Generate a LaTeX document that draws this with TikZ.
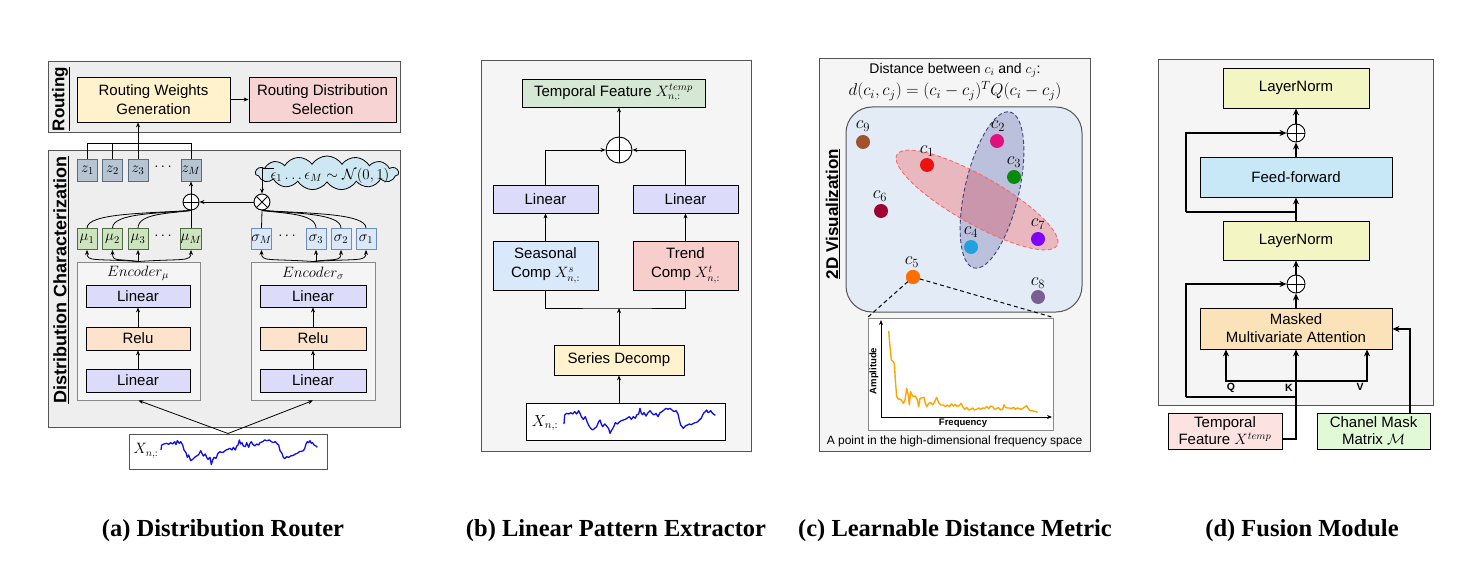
\RequirePackage{fix-cm}
\documentclass[tikz,border=0pt]{standalone}
\usepackage{fontspec}
\setsansfont{Liberation Sans}
\newfontfamily\capfont{Liberation Serif}
\usetikzlibrary{arrows.meta,shapes.symbols,calc}
\definecolor{pnlA}{HTML}{EEEEEE}
\definecolor{pnlB}{HTML}{F5F5F5}
\definecolor{pnlline}{HTML}{555555}
\definecolor{rwgc}{HTML}{FFF2CC}
\definecolor{rdsc}{HTML}{F8D3D3}
\definecolor{zfill}{HTML}{B7C5D3}
\definecolor{zline}{HTML}{5A6B7B}
\definecolor{mufill}{HTML}{CDE5BF}
\definecolor{muline}{HTML}{4F6B42}
\definecolor{sgfill}{HTML}{DAE8FC}
\definecolor{sgline}{HTML}{6C8EBF}
\definecolor{linc}{HTML}{DCDCFA}
\definecolor{reluc}{HTML}{FDE3CC}
\definecolor{cloudc}{HTML}{CDE8F2}
\definecolor{encc}{HTML}{F5F5F5}
\definecolor{encline}{HTML}{888888}
\definecolor{tfc}{HTML}{D5E8D4}
\definecolor{seasc}{HTML}{DAE8FC}
\definecolor{trendc}{HTML}{F8CECC}
\definecolor{sdc}{HTML}{FFF2CC}
\definecolor{vizc}{HTML}{E3ECF6}
\definecolor{lnc}{HTML}{F3F6C2}
\definecolor{ffc}{HTML}{C8E8F8}
\definecolor{mmac}{HTML}{FCE2B8}
\definecolor{tfdc}{HTML}{FDE2E2}
\definecolor{cmmc}{HTML}{E2F9D8}
\definecolor{wavec}{HTML}{1010E0}
\definecolor{specc}{HTML}{FFA500}
\definecolor{pc9}{HTML}{A0522D}
\definecolor{pc1}{HTML}{EE1111}
\definecolor{pc2}{HTML}{E0107F}
\definecolor{pc3}{HTML}{0A8A0A}
\definecolor{pc6}{HTML}{A00030}
\definecolor{pc4}{HTML}{22A0E0}
\definecolor{pc7}{HTML}{8000FF}
\definecolor{pc5}{HTML}{FF6E00}
\definecolor{pc8}{HTML}{7A6090}
\definecolor{ellr}{HTML}{FF6666}
\definecolor{ellb}{HTML}{404080}
\definecolor{ellbf}{HTML}{6060A0}
\tikzset{
  arr/.style={-{Stealth[length=5pt,width=4pt]}, line width=0.8pt},
  darr/.style={-{Stealth[length=7pt,width=6pt]}, line width=1.1pt},
  pnl/.style={draw=pnlline, line width=1pt, inner sep=0pt},
  bx/.style={draw=black, line width=0.8pt, inner sep=0pt, align=center,
    font=\sffamily\fontsize{15}{19}\selectfont},
  sbx/.style={line width=0.8pt, inner sep=0pt, minimum width=20pt, minimum height=21pt,
    font=\fontsize{15}{17}\selectfont},
  lab/.style={font=\sffamily\bfseries\fontsize{17}{18}\selectfont},
  opl/.style={circle, draw, line width=0.9pt, inner sep=0pt, minimum size=#1,
    path picture={\draw[line width=0.9pt] (path picture bounding box.north) -- (path picture bounding box.south)
      (path picture bounding box.west) -- (path picture bounding box.east);}},
  otm/.style={circle, draw, line width=0.9pt, inner sep=0pt, minimum size=#1,
    path picture={\draw[line width=0.9pt] (path picture bounding box.north west) -- (path picture bounding box.south east)
      (path picture bounding box.north east) -- (path picture bounding box.south west);}},
  pt/.style={circle, inner sep=0pt, minimum size=14pt},
  plab/.style={font=\fontsize{18}{20}\selectfont, inner sep=0pt},
  captxt/.style={font=\capfont\bfseries\fontsize{24.5}{28}\selectfont},
  wave/.style={draw=wavec, line width=1.3pt, line join=round},
}
\begin{document}
\begin{tikzpicture}[x=1pt,y=-1pt]
\useasboundingbox (0,0) rectangle (1471,561);
\fill[white] (0,0) rectangle (1471,561);

%%%%%%%%%%%%%%%% (a)
\node[pnl, fill=pnlA, minimum width=352pt, minimum height=71pt] (routbg) at (224,97.5) {};
\node[pnl, fill=pnlA, minimum width=352pt, minimum height=276pt] (distbg) at (224,289) {};
\node[lab, rotate=90] (routlab) at (61,99) {\underline{Routing}};
\node[lab, rotate=90, font=\sffamily\bfseries\fontsize{18}{19}\selectfont] (distlab) at (61,280) {\underline{Distribution Characterization}};
\node[bx, fill=rwgc, minimum width=153pt, minimum height=45pt] (rwg) at (153.5,99.5) {Routing Weights\\Generation};
\node[bx, fill=rdsc, minimum width=147pt, minimum height=45pt] (rds) at (322.5,99.5) {Routing Distribution\\Selection};
\draw[arr] (rwg) -- (rds);

\node[sbx, draw=zline, fill=zfill, minimum height=22pt] (z1) at (87.5,170) {$z_1$};
\node[sbx, draw=zline, fill=zfill, minimum height=22pt] (z2) at (112.5,170) {$z_2$};
\node[sbx, draw=zline, fill=zfill, minimum height=22pt] (z3) at (138,170) {$z_3$};
\node[font=\fontsize{15}{17}\selectfont] (zdots) at (163,167) {$\cdots$};
\node[sbx, draw=zline, fill=zfill, minimum height=22pt] (zM) at (191,170) {$z_M$};
\coordinate (zbus) at (191,143);
\draw[line width=0.8pt] (z1.north) |- (zbus) -- (zM.north);
\draw[line width=0.8pt] (z2.north) -- (z2.north |- zbus);
\draw[arr] (z3.north) -- (z3.north |- rwg.south);

\node[cloud, cloud puffs=15, cloud puff arc=115, draw, line width=0.8pt, fill=cloudc,
  minimum width=143pt, minimum height=34pt, inner sep=0pt] (cloud) at (327,173) {};
\node[font=\fontsize{15}{17}\selectfont] (eps) at (330,176) {$\epsilon_1\ldots\epsilon_M\sim\mathcal{N}(0,1)$};
\node[otm=16pt, fill=white] (otm) at (262,202) {};
\node[opl=16pt, fill=white] (opa) at (191,202) {};
\coordinate (cl) at (274,168);
\draw[arr] (cl) -| (otm.north);
\draw[arr] (otm.west) -- (opa.east);
\draw[arr] (opa.north) -- (zM.south);

\node[sbx, draw=muline, fill=mufill] (mu1) at (87,239) {$\mu_1$};
\node[sbx, draw=muline, fill=mufill] (mu2) at (112.5,239) {$\mu_2$};
\node[sbx, draw=muline, fill=mufill] (mu3) at (138,239) {$\mu_3$};
\node[font=\fontsize{15}{17}\selectfont] (mudots) at (163,236) {$\cdots$};
\node[sbx, draw=muline, fill=mufill] (muM) at (191,239) {$\mu_M$};
\node[sbx, draw=sgline, fill=sgfill] (sgM) at (261.5,239) {$\sigma_M$};
\node[font=\fontsize{15}{17}\selectfont] (sgdots) at (287,236) {$\cdots$};
\node[sbx, draw=sgline, fill=sgfill] (sg3) at (316,239) {$\sigma_3$};
\node[sbx, draw=sgline, fill=sgfill] (sg2) at (341,239) {$\sigma_2$};
\node[sbx, draw=sgline, fill=sgfill] (sg1) at (366,239) {$\sigma_1$};

\draw[line width=0.8pt] (mu1.north) .. controls +(0,-15) and +(-45,3) .. (opa.south);
\draw[line width=0.8pt] (mu2.north) .. controls +(0,-15) and +(-32,3) .. (opa.south);
\draw[line width=0.8pt] (mu3.north) .. controls +(0,-15) and +(-20,3) .. (opa.south);
\draw[line width=0.8pt] (muM.north) -- (opa.south);
\draw[line width=0.8pt] (sg1.north) .. controls +(0,-15) and +(45,3) .. (otm.south);
\draw[line width=0.8pt] (sg2.north) .. controls +(0,-15) and +(32,3) .. (otm.south);
\draw[line width=0.8pt] (sg3.north) .. controls +(0,-15) and +(20,3) .. (otm.south);
\draw[line width=0.8pt] (sgM.north) -- (otm.south);

\node[draw=encline, line width=1pt, fill=encc, minimum width=123pt, minimum height=138pt, inner sep=0pt] (encmu) at (138.5,331) {};
\node[draw=encline, line width=1pt, fill=encc, minimum width=124pt, minimum height=138pt, inner sep=0pt] (encsg) at (313,331) {};
\node[font=\fontsize{15}{17}\selectfont] (encmulab) at (138,273) {$Encoder_\mu$};
\node[font=\fontsize{15}{17}\selectfont] (encsglab) at (313,273) {$Encoder_\sigma$};
\node[bx, fill=linc, minimum width=104pt, minimum height=22pt] (lma) at (138,296) {Linear};
\node[bx, fill=reluc, minimum width=104pt, minimum height=23pt] (rmu) at (138,338.5) {Relu};
\node[bx, fill=linc, minimum width=104pt, minimum height=23pt] (lmb) at (138,380.5) {Linear};
\node[bx, fill=linc, minimum width=106pt, minimum height=22pt] (lsa) at (313,296) {Linear};
\node[bx, fill=reluc, minimum width=106pt, minimum height=23pt] (rsg) at (313,338.5) {Relu};
\node[bx, fill=linc, minimum width=106pt, minimum height=23pt] (lsb) at (313,380.5) {Linear};
\draw[arr] (lmb) -- (rmu); \draw[arr] (rmu) -- (lma);
\draw[arr] (lsb) -- (rsg); \draw[arr] (rsg) -- (lsa);

\draw[arr] (encmu.north) .. controls +(-45,-3) and +(0,12) .. (mu1.south);
\draw[arr] (encmu.north) .. controls +(-22,-3) and +(0,12) .. (mu2.south);
\draw[arr] (mu3.south |- encmu.north) -- (mu3.south);
\draw[arr] (encmu.north) .. controls +(45,-3) and +(0,12) .. (muM.south);
\draw[arr] (encsg.north) .. controls +(-45,-3) and +(0,12) .. (sgM.south);
\draw[arr] (sg3.south |- encsg.north) -- (sg3.south);
\draw[arr] (encsg.north) .. controls +(22,-3) and +(0,12) .. (sg2.south);
\draw[arr] (encsg.north) .. controls +(45,-3) and +(0,12) .. (sg1.south);

\node[draw=pnlline, line width=1pt, fill=white, minimum width=198pt, minimum height=35pt, inner sep=0pt] (xa) at (228,451.5) {};
\node[font=\fontsize{15}{17}\selectfont] (xalab) at (146,451) {$X_{n,:}$};
\begin{scope}[shift={(40,370)}, scale=0.33333]
\draw[wave] plot coordinates {(363,240) (365,225) (372,222) (380,220) (386,223) (392,218) (398,222) (404,215) (408,224) (412,212) (418,220) (422,215) (428,225) (432,240) (438,248) (442,262) (446,255) (452,272) (458,268) (464,262) (470,258) (476,254) (482,242) (486,250) (490,258) (496,252) (500,262) (504,268) (510,262) (514,284) (518,270) (522,262) (528,265) (534,250) (540,245) (546,248) (552,245) (558,240) (564,238) (570,235) (576,240) (580,232) (586,240) (590,228) (594,225) (598,210) (602,222) (606,218) (610,228) (616,230) (620,218) (626,232) (630,220) (634,215) (638,222) (644,228) (650,222) (656,225) (660,218) (668,215) (674,210) (680,212) (688,210) (694,215) (700,218) (706,215) (712,222) (716,225) (720,242) (726,250) (730,262) (734,266) (740,260) (746,262) (752,258) (760,256) (766,252) (772,250) (778,245) (784,244) (790,242) (794,236) (798,222) (802,215) (806,218) (810,212) (814,220) (818,218) (822,225) (828,228) (832,232)};
\end{scope}
\draw[arr] (xa.north) -- (encmu.south);
\draw[arr] (xa.north) -- (encsg.south);

%%%%%%%%%%%%%%%% (b)
\node[pnl, fill=pnlB, minimum width=270pt, minimum height=390pt] (bgb) at (616,256) {};
\node[bx, fill=tfc, minimum width=183pt, minimum height=28pt] (tf) at (613.5,93) {Temporal Feature $X^{temp}_{n,:}$};
\node[opl=26pt, fill=white] (opb) at (619,150) {};
\node[bx, fill=linc, minimum width=105pt, minimum height=28pt] (linl) at (545.5,199) {Linear};
\node[bx, fill=linc, minimum width=105pt, minimum height=28pt] (linr) at (685.5,199) {Linear};
\node[bx, fill=seasc, minimum width=105pt, minimum height=49pt] (seas) at (545.5,265.5) {Seasonal\\Comp $X^{s}_{n,:}$};
\node[bx, fill=trendc, minimum width=105pt, minimum height=49pt] (trend) at (685.5,265.5) {Trend\\Comp $X^{t}_{n,:}$};
\node[bx, fill=sdc, minimum width=130pt, minimum height=30pt] (sd) at (619,360) {Series Decomp};
\node[draw=black, line width=0.8pt, fill=white, minimum width=199pt, minimum height=37pt, inner sep=0pt] (xb) at (625.5,421.5) {};
\node[font=\fontsize{16}{18}\selectfont] (xblab) at (545,423) {$X_{n,:}$};
\begin{scope}[shift={(470,260)}, scale=0.33333]
\draw[wave] plot coordinates {(282,492) (284,465) (290,460) (296,462) (302,458) (308,462) (314,455) (320,462) (326,452) (330,460) (334,470) (340,478) (346,470) (350,482) (356,496) (362,505) (368,510) (374,505) (380,500) (386,485) (390,480) (394,492) (398,500) (404,492) (410,498) (416,506) (420,520) (424,512) (428,506) (432,498) (436,488) (442,492) (448,486) (454,482) (460,480) (466,478) (472,474) (478,470) (484,478) (490,470) (496,475) (500,465) (506,462) (510,445) (514,460) (518,464) (522,458) (528,468) (534,458) (540,452) (546,460) (552,465) (558,460) (564,470) (570,458) (576,455) (582,450) (588,445) (594,448) (600,445) (606,450) (612,455) (618,452) (624,462) (628,480) (632,495) (636,500) (640,505) (646,498) (652,495) (658,492) (664,494) (670,490) (676,488) (682,486) (688,480) (694,474) (698,465) (702,458) (706,455) (710,450) (714,458) (718,456) (722,452) (726,458) (730,462) (736,466)};
\end{scope}
\draw[arr] (opb.north) -- (opb.north |- tf.south);
\draw[arr] (linl.north) |- (opb.west);
\draw[arr] (linr.north) |- (opb.east);
\draw[arr] (seas) -- (linl);
\draw[arr] (trend) -- (linr);
\coordinate (jb) at (619,308);
\draw[line width=0.8pt] (seas.south) |- (jb) -| (trend.south);
\draw[arr] (sd.north) -- (jb);
\draw[arr] (sd.south |- xb.north) -- (sd.south);

%%%%%%%%%%%%%%%% (c)
\node[pnl, fill=pnlB, minimum width=271pt, minimum height=392pt] (bgc) at (954.5,255) {};
\node[font=\sffamily\fontsize{14}{16}\selectfont] (dt1) at (955,70) {Distance between $c_i$ and $c_j$:};
\node[font=\fontsize{17}{19}\selectfont] (dt2) at (955,91) {$d(c_i,c_j)=(c_i-c_j)^TQ(c_i-c_j)$};
\node[draw=pnlline, line width=1pt, fill=vizc, rounded corners=26pt, minimum width=236pt, minimum height=205pt, inner sep=0pt] (viz) at (964,209.5) {};
\node[lab, rotate=90] (vizlab) at (833,214) {\underline{2D Visualization}};
\fill[ellbf, fill opacity=0.3] (992,190) ellipse [x radius=80, y radius=27, rotate=77];
\fill[red, fill opacity=0.22] (977,200) ellipse [x radius=92, y radius=24, rotate=-29.5];
\draw[ellb, dashed, line width=0.9pt, dash pattern=on 4pt off 2.5pt] (992,190) ellipse [x radius=80, y radius=27, rotate=77];
\draw[ellr, dashed, line width=0.9pt, dash pattern=on 4pt off 2.5pt] (977,200) ellipse [x radius=92, y radius=24, rotate=-29.5];

\node[draw=encline, line width=1pt, fill=white, minimum width=185pt, minimum height=112pt, inner sep=0pt] (plot) at (960.5,374) {};
\node[pt, fill=pc5] (c5) at (913,277) {};
\draw[dashed, line width=1pt, dash pattern=on 4pt off 3pt] (c5.center) -- (plot.north west);
\draw[dashed, line width=1pt, dash pattern=on 4pt off 3pt] (c5.center) -- (plot.north east);
\node[pt, fill=pc5] (c5b) at (913,277) {};
\node[pt, fill=pc9] (c9) at (863,142) {};
\node[pt, fill=pc1] (c1) at (927,165) {};
\node[pt, fill=pc2] (c2) at (997,141) {};
\node[pt, fill=pc3] (c3) at (1014,177) {};
\node[pt, fill=pc6] (c6) at (881,211) {};
\node[pt, fill=pc4] (c4) at (971,247) {};
\node[pt, fill=pc7] (c7) at (1038,239) {};
\node[pt, fill=pc8] (c8) at (1038,297) {};
\node[plab] (l9) at (863,126) {$c_9$};
\node[plab] (l1) at (927,151) {$c_1$};
\node[plab] (l2) at (998,126) {$c_2$};
\node[plab] (l3) at (1014,162) {$c_3$};
\node[plab] (l6) at (880,196) {$c_6$};
\node[plab] (l4) at (971,232) {$c_4$};
\node[plab] (l7) at (1038,224) {$c_7$};
\node[plab] (l5) at (912,262) {$c_5$};
\node[plab] (l8) at (1038,283) {$c_8$};

\coordinate (ax0) at (881,417);
\coordinate (axy) at (881,320);
\coordinate (axx) at (1052,417);
\draw[-{Stealth[length=5pt,width=4pt]}, line width=0.9pt] (ax0) -- (axy);
\draw[-{Stealth[length=5pt,width=4pt]}, line width=0.9pt] (ax0) -- (axx);
\node[font=\sffamily\bfseries\fontsize{9.5}{11}\selectfont, rotate=90] (amp) at (874,371) {Amplitude};
\node[font=\sffamily\bfseries\fontsize{9.5}{11}\selectfont] (freq) at (963,423) {Frequency};
\begin{scope}[shift={(810,270)}, scale=0.33333]
\draw[specc, line width=1.4pt, line join=round] plot coordinates {(236,183) (240,230) (244,270) (250,275) (253,282) (256,330) (260,380) (265,388) (270,387) (275,392) (280,400) (285,390) (290,355) (295,375) (298,405) (302,365) (306,375) (310,380) (316,378) (322,390) (326,410) (330,385) (336,383) (342,382) (346,400) (350,410) (356,400) (362,398) (368,405) (374,395) (380,382) (386,398) (392,405) (400,405) (406,410) (412,405) (418,410) (424,402) (430,408) (436,403) (442,410) (448,406) (454,400) (458,410) (464,418) (470,412) (476,420) (482,418) (488,414) (494,420) (500,418) (506,414) (512,418) (518,414) (524,415) (530,410) (536,416) (542,408) (548,410) (554,418) (560,415) (566,413) (572,420) (578,418) (582,404) (586,412) (592,414) (598,414) (604,416) (610,412) (616,418) (622,414) (628,416) (634,418) (640,414) (646,410) (650,407) (654,414) (660,422) (666,422) (672,424) (678,425) (683,427)};
\end{scope}
\node[font=\sffamily\fontsize{12}{14}\selectfont] (ptcap) at (954.5,441) {A point in the high-dimensional frequency space};

%%%%%%%%%%%%%%%% (d)
\node[pnl, fill=pnlB, minimum width=275pt, minimum height=345pt] (bgd) at (1295.5,232.5) {};
\node[bx, fill=lnc, minimum width=146pt, minimum height=40pt] (ln1) at (1296,88) {LayerNorm};
\node[opl=18pt, fill=white] (op1) at (1296,133) {};
\node[bx, fill=ffc, minimum width=192pt, minimum height=40pt] (ff) at (1296,177) {Feed-forward};
\node[bx, fill=lnc, minimum width=146pt, minimum height=39pt] (ln2) at (1296,240.5) {LayerNorm};
\node[opl=18pt, fill=white] (op2) at (1296,284) {};
\node[bx, fill=mmac, minimum width=192pt, minimum height=41pt, font=\sffamily\fontsize{15}{18}\selectfont] (mma) at (1296,328.5) {Masked\\Multivariate Attention};
\node[bx, fill=tfdc, minimum width=114pt, minimum height=36pt, font=\sffamily\fontsize{15}{17}\selectfont] (tfd) at (1225,431) {Temporal\\Feature $X^{temp}$};
\node[bx, fill=cmmc, minimum width=113pt, minimum height=36pt, font=\sffamily\fontsize{15}{17}\selectfont] (cmm) at (1373.5,431) {Chanel Mask\\Matrix $\mathcal{M}$};

\draw[darr] (op1.north) -- (ln1.south);
\draw[darr] (ff.north) -- (op1.south);
\draw[darr] (ln2.north) -- (ff.south);
\coordinate (r1a) at (1296,212);
\coordinate (r1b) at (1186,212);
\draw[line width=1.1pt] (r1a) -- (r1b);
\draw[darr] (r1b) |- (op1.west);
\draw[darr] (op2.north) -- (ln2.south);
\draw[darr] (mma.north) -- (op2.south);
\coordinate (kin) at (1296,439);
\draw[darr] (tfd.east |- kin) -- (kin) -- (mma.south);
\coordinate (qv) at (1296,381);
\coordinate (qpt) at (1226,381);
\coordinate (vpt) at (1367,381);
\draw[darr] (qv) -- (qpt) -- (qpt |- mma.south);
\draw[darr] (qv) -- (vpt) -- (vpt |- mma.south);
\coordinate (r2a) at (1296,397);
\coordinate (r2b) at (1186,397);
\draw[line width=1.1pt] (r2a) -- (r2b);
\draw[darr] (r2b) |- (op2.west);
\coordinate (cmt) at (1410,413);
\draw[darr] (cmt) |- (mma.east |- 0,329);
\node[font=\sffamily\bfseries\fontsize{10.5}{12}\selectfont] (ql) at (1231,388) {Q};
\node[font=\sffamily\bfseries\fontsize{10.5}{12}\selectfont] (kl) at (1289,388) {K};
\node[font=\sffamily\bfseries\fontsize{10.5}{12}\selectfont] (vl) at (1360,387) {V};

%%%%%%%%%%%%%%%% captions
\node[captxt] (capa) at (223,531) {(a) Distribution Router};
\node[captxt] (capb) at (616,531) {(b) Linear Pattern Extractor};
\node[captxt] (capc) at (955,531) {(c) Learnable Distance Metric};
\node[captxt] (capd) at (1302,531) {(d) Fusion Module};
\end{tikzpicture}
\end{document}
